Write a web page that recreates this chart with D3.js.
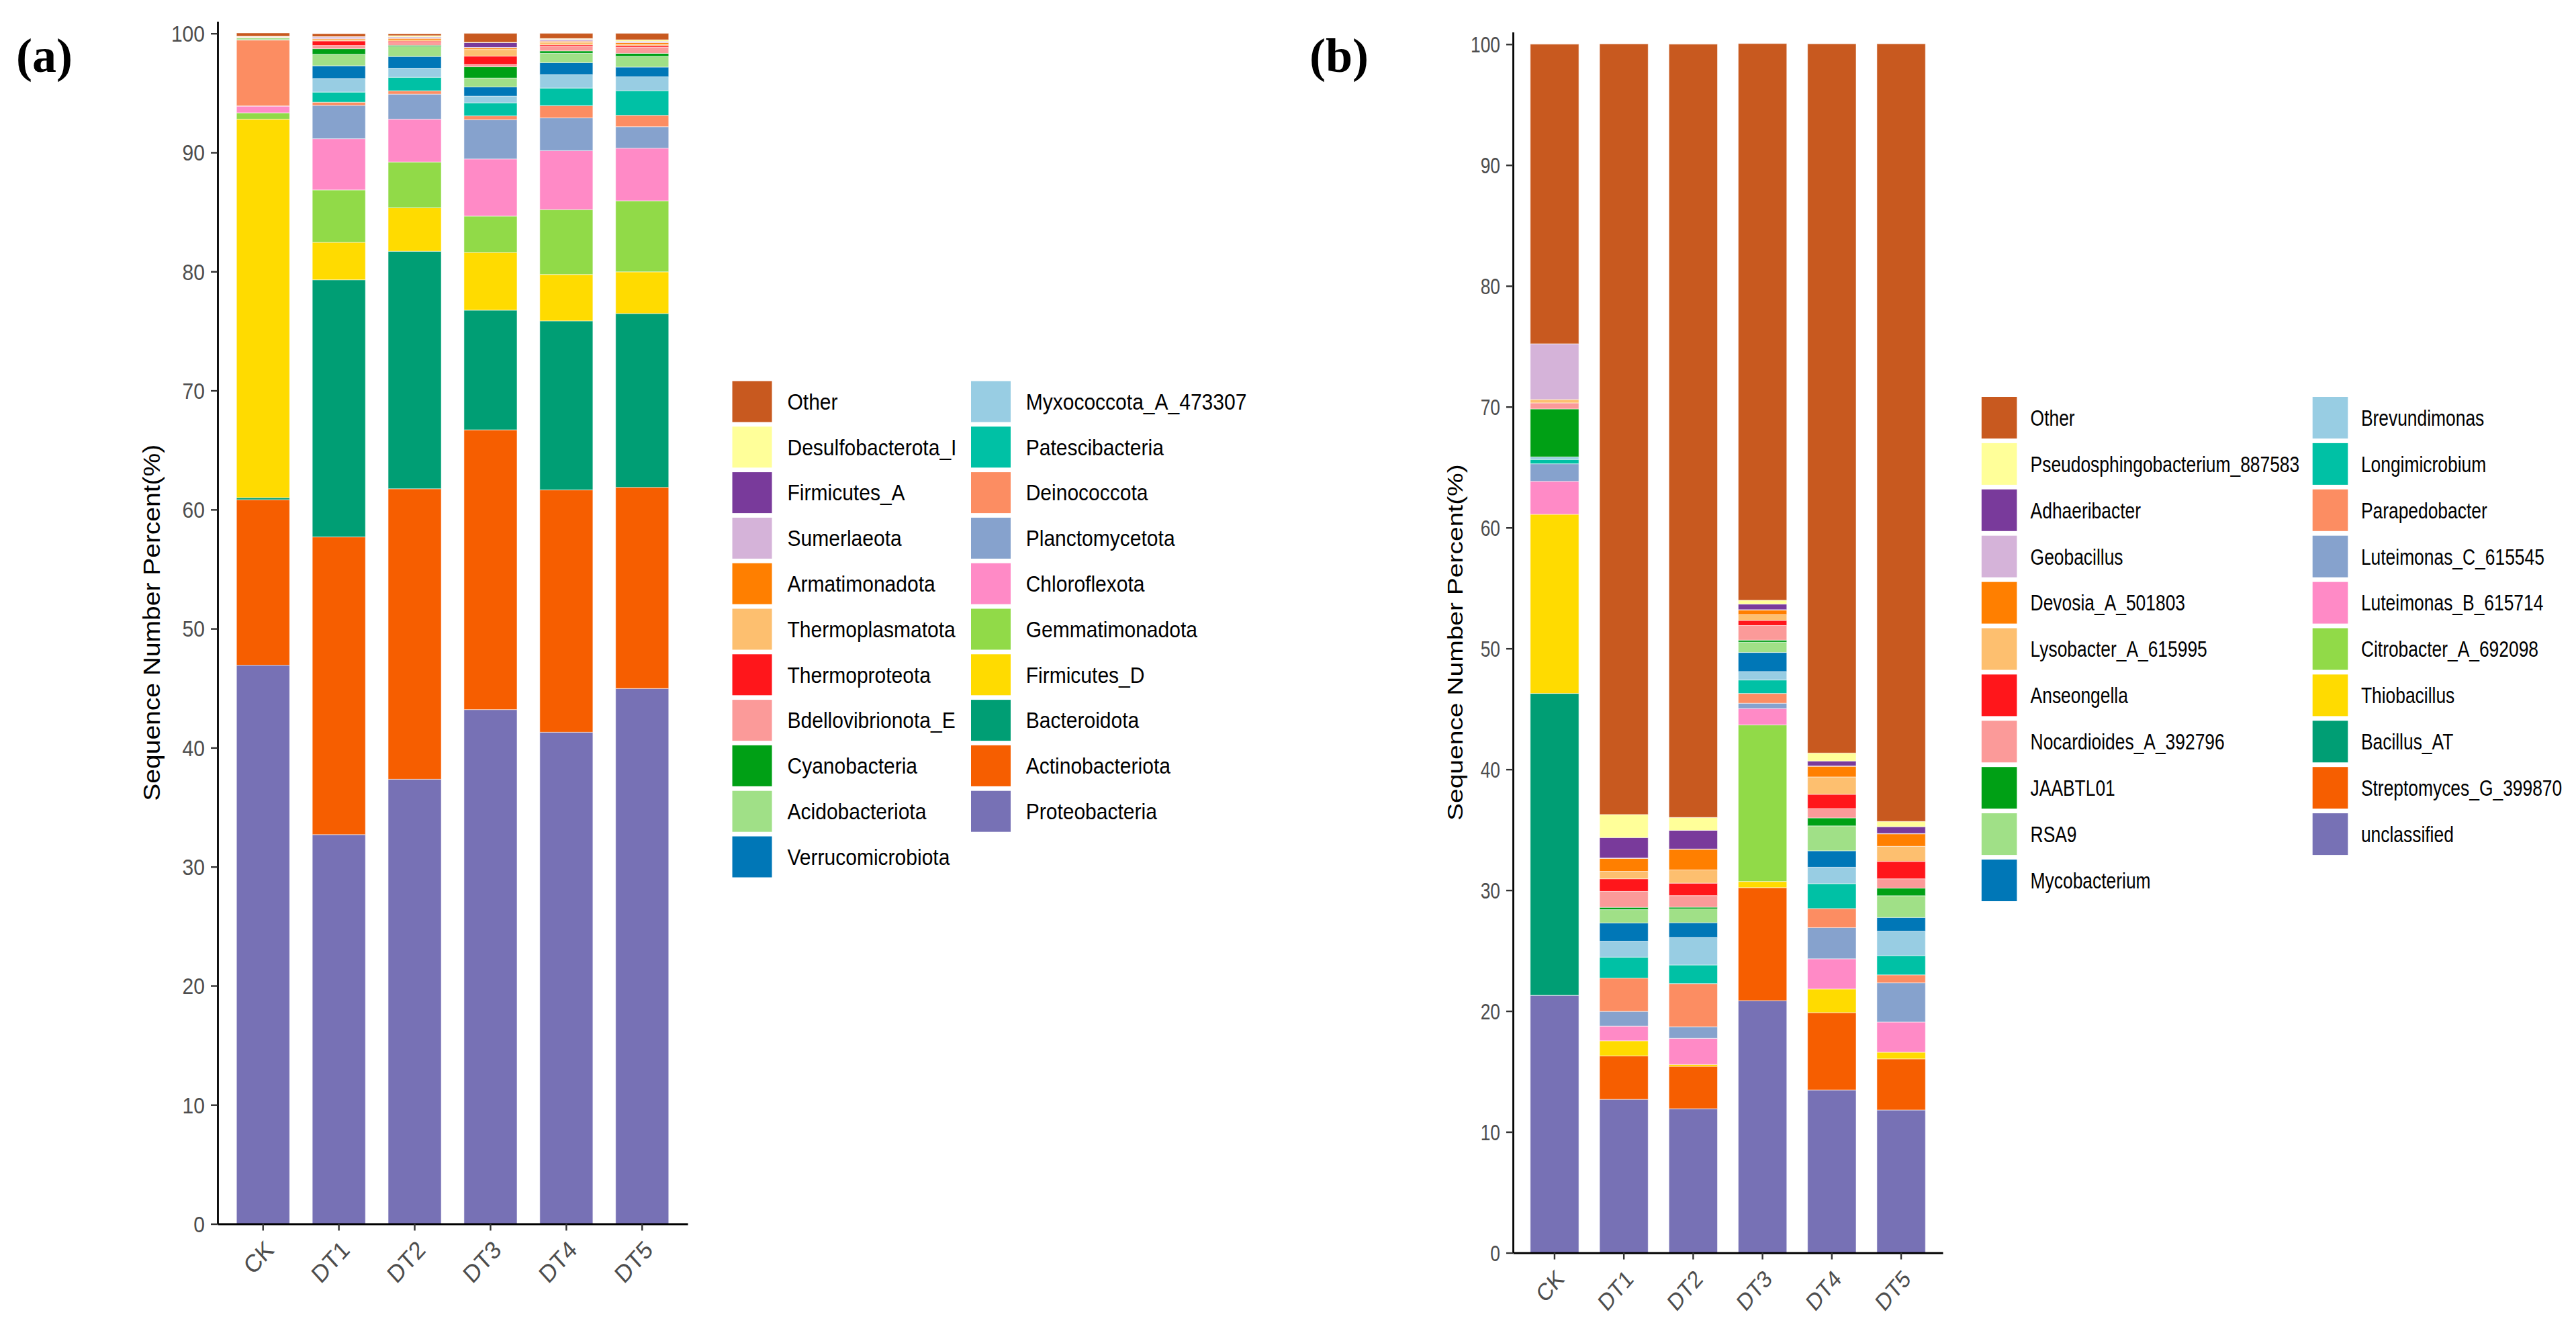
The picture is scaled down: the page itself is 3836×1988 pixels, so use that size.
<!DOCTYPE html>
<html>
<head>
<meta charset="utf-8">
<script src="https://cdn.jsdelivr.net/npm/d3@7"></script>
<style>
  body { margin: 0; background: #fff; }
  text { font-family: "Liberation Sans", Arial, sans-serif; }
</style>
</head>
<body>
<script>
// sample names on the x axis
var samples = ["CK", "DT1", "DT2", "DT3", "DT4", "DT5"];

// panel (a): phyla, legend order (top of stack first)
var taxaA = ["Other", "Desulfobacterota_I", "Firmicutes_A", "Sumerlaeota", "Armatimonadota",
  "Thermoplasmatota", "Thermoproteota", "Bdellovibrionota_E", "Cyanobacteria", "Acidobacteriota",
  "Verrucomicrobiota", "Myxococcota_A_473307", "Patescibacteria", "Deinococcota", "Planctomycetota",
  "Chloroflexota", "Gemmatimonadota", "Firmicutes_D", "Bacteroidota", "Actinobacteriota", "Proteobacteria"];

// percent per sample (CK, DT1..DT5), same row order as taxaA
var valuesA = [
  [0.28, 0.24, 0.15, 0.75, 0.43, 0.54],
  [0.02, 0.02, 0.10, 0.02, 0.07, 0.12],
  [0.01, 0.03, 0.05, 0.40, 0.02, 0.02],
  [0.02, 0.13, 0.08, 0.05, 0.15, 0.10],
  [0.01, 0.09, 0.13, 0.13, 0.10, 0.15],
  [0.01, 0.09, 0.10, 0.56, 0.19, 0.10],
  [0.01, 0.38, 0.13, 0.70, 0.13, 0.13],
  [0.05, 0.28, 0.22, 0.20, 0.38, 0.52],
  [0.01, 0.47, 0.11, 0.94, 0.20, 0.25],
  [0.15, 0.96, 0.83, 0.75, 0.79, 0.90],
  [0.01, 1.07, 0.98, 0.77, 1.00, 0.81],
  [0.01, 1.14, 0.77, 0.56, 1.13, 1.17],
  [0.01, 0.85, 1.13, 1.10, 1.48, 2.07],
  [5.53, 0.27, 0.28, 0.32, 1.03, 0.96],
  [0.02, 2.80, 2.10, 3.30, 2.75, 1.80],
  [0.56, 4.30, 3.60, 4.80, 4.95, 4.42],
  [0.53, 4.40, 3.85, 3.05, 5.45, 5.97],
  [31.80, 3.15, 3.65, 4.85, 3.90, 3.50],
  [0.17, 21.60, 19.95, 10.05, 14.20, 14.60],
  [13.90, 25.00, 24.40, 23.50, 20.35, 16.90],
  [46.93, 32.70, 37.35, 43.20, 41.30, 44.97]
];

// panel (b): genera, legend order (top of stack first)
var taxaB = ["Other", "Pseudosphingobacterium_887583", "Adhaeribacter", "Geobacillus", "Devosia_A_501803",
  "Lysobacter_A_615995", "Anseongella", "Nocardioides_A_392796", "JAABTL01", "RSA9",
  "Mycobacterium", "Brevundimonas", "Longimicrobium", "Parapedobacter", "Luteimonas_C_615545",
  "Luteimonas_B_615714", "Citrobacter_A_692098", "Thiobacillus", "Bacillus_AT", "Streptomyces_G_399870",
  "unclassified"];

var valuesB = [
  [24.79, 63.76, 63.98, 46.06, 58.68, 64.34],
  [0, 1.91, 1.07, 0.32, 0.66, 0.44],
  [0, 1.69, 1.54, 0.46, 0.41, 0.56],
  [4.61, 0.03, 0.03, 0.03, 0.03, 0.03],
  [0, 1.07, 1.70, 0.39, 0.88, 1.03],
  [0.28, 0.62, 1.10, 0.47, 1.44, 1.25],
  [0, 1.04, 1.03, 0.42, 1.18, 1.44],
  [0.50, 1.32, 0.96, 1.21, 0.77, 0.77],
  [3.97, 0.19, 0.14, 0.17, 0.66, 0.63],
  [0, 1.10, 1.14, 0.85, 2.06, 1.80],
  [0, 1.51, 1.22, 1.58, 1.36, 1.14],
  [0.21, 1.32, 2.28, 0.70, 1.36, 2.02],
  [0.36, 1.73, 1.54, 1.11, 2.06, 1.59],
  [0, 2.76, 3.57, 0.81, 1.58, 0.66],
  [1.45, 1.22, 0.96, 0.44, 2.58, 3.24],
  [2.73, 1.21, 2.17, 1.36, 2.50, 2.50],
  [0, 0, 0, 12.95, 0, 0],
  [14.82, 1.25, 0.15, 0.51, 1.95, 0.55],
  [24.98, 0, 0, 0, 0, 0],
  [0, 3.60, 3.50, 9.35, 6.40, 4.23],
  [21.30, 12.69, 11.92, 20.86, 13.47, 11.81]
];

var yTicks = [0, 10, 20, 30, 40, 50, 60, 70, 80, 90, 100];

// fill colours, legend order (shared by both panels)
var palette = ["#C8591F", "#FFFF99", "#793A9B", "#D5B3D9", "#FF7F00", "#FDBF6F", "#FF161B",
  "#FB9A99", "#00A015", "#A0E087", "#0077B7", "#98CDE3", "#00C1A5", "#FC8D62", "#86A2CD",
  "#FF8AC6", "#91DA48", "#FFDB00", "#009E74", "#F65E00", "#7771B5"];

var svg = d3.select("body").append("svg")
  .attr("width", 3836)
  .attr("height", 1988);

function drawPanel(p) {
  var g = svg.append("g");

  var x = d3.scaleBand().domain(samples).range([p.x0, p.x1])
    .paddingInner(0.3).paddingOuter(0.25);
  var y = d3.scaleLinear().domain([0, 101]).range([p.yBottom, p.yTop]);

  // rows for d3.stack
  var rows = samples.map(function(s, j) {
    var r = { sample: s };
    p.taxa.forEach(function(t, i) { r[t] = p.values[i][j]; });
    return r;
  });
  var keys = p.taxa.slice().reverse();   // bottom of stack first
  var color = d3.scaleOrdinal().domain(p.taxa).range(palette);
  var series = d3.stack().keys(keys)(rows);

  g.selectAll("g.layer")
    .data(series)
    .enter().append("g")
    .attr("class", "layer")
    .attr("fill", function(d) { return color(d.key); })
    .selectAll("rect")
    .data(function(d) { return d; })
    .enter().append("rect")
    .attr("x", function(d) { return x(d.data.sample); })
    .attr("width", x.bandwidth())
    .attr("y", function(d) { return y(d[1]); })
    .attr("height", function(d) { return Math.max(0, y(d[0]) - y(d[1])); })
    .attr("stroke", "#ffffff")
    .attr("stroke-opacity", 0.55)
    .attr("stroke-width", 1);

  // y axis
  var ya = g.append("g")
    .attr("transform", "translate(" + p.x0 + ",0)")
    .call(d3.axisLeft(y).tickValues(yTicks).tickSize(10).tickSizeOuter(0));
  ya.select(".domain").attr("stroke", "#000").attr("stroke-width", 2.8);
  ya.selectAll(".tick line").attr("stroke", "#333").attr("stroke-width", 2.4);
  ya.selectAll(".tick text")
    .attr("x", 0).attr("dy", "0.36em")
    .attr("transform", "translate(-19,0) scale(" + p.sx + ",1)")
    .attr("fill", "#4D4D4D")
    .style("font-size", "33px")
    .style("font-family", "Liberation Sans, Arial, sans-serif");

  // x axis
  var xa = g.append("g")
    .attr("transform", "translate(0," + p.yBottom + ")")
    .call(d3.axisBottom(x).tickSize(10).tickSizeOuter(0));
  xa.select(".domain").attr("stroke", "#000").attr("stroke-width", 2.8);
  xa.selectAll(".tick line").attr("stroke", "#333").attr("stroke-width", 2.4);
  xa.selectAll(".tick text")
    .attr("x", 0).attr("y", 0).attr("dy", null)
    .attr("transform", "translate(" + p.lx + "," + p.ly + ") scale(" + p.lsx + ",1) rotate(-45)")
    .style("text-anchor", "end")
    .attr("fill", "#4D4D4D")
    .style("font-size", p.lfs + "px")
    .style("font-family", "Liberation Sans, Arial, sans-serif");

  // y axis title
  g.append("text")
    .attr("transform", "translate(" + p.titleX + "," + ((p.yTop + p.yBottom) / 2) + ") scale(" + p.sx + ",1) rotate(-90)")
    .attr("text-anchor", "middle")
    .style("font-size", "39px")
    .attr("fill", "#000")
    .text("Sequence Number Percent(%)");

  // panel letter
  g.append("text")
    .attr("x", p.labelX).attr("y", 107)
    .style("font-family", "Liberation Serif, Times New Roman, serif")
    .style("font-weight", "bold")
    .style("font-size", "72px")
    .text(p.label);

  // legend, two columns
  var leg = g.append("g");
  p.taxa.forEach(function(t, i) {
    var col = i < 11 ? 0 : 1;
    var row = col === 0 ? i : i - 11;
    var cy = p.legY0 + row * p.legStep;
    leg.append("rect")
      .attr("x", p.keyX[col]).attr("y", cy - p.keyH / 2)
      .attr("width", p.keyW).attr("height", p.keyH)
      .attr("fill", color(t));
    leg.append("text")
      .attr("transform", "translate(" + p.textX[col] + "," + cy + ") scale(" + p.sx + ",1)")
      .attr("dy", "0.36em")
      .style("font-size", "33px")
      .attr("fill", "#000")
      .text(t);
  });
}

drawPanel({
  taxa: taxaA, values: valuesA,
  x0: 324, x1: 1024, yTop: 32, yBottom: 1822.5,
  sx: 0.91, lx: 18, ly: 41, lsx: 0.91, lfs: 37, titleX: 238,
  label: "(a)", labelX: 24,
  keyX: [1090.5, 1446], textX: [1172.5, 1527.7],
  keyW: 59, keyH: 61, legY0: 598, legStep: 67.8
});

drawPanel({
  taxa: taxaB, values: valuesB,
  x0: 2253, x1: 2893, yTop: 47.8, yBottom: 1865.5,
  sx: 0.80, lx: 16, ly: 41, lsx: 0.86, lfs: 36, titleX: 2178,
  label: "(b)", labelX: 1950,
  keyX: [2950.8, 3443.7], textX: [3023.6, 3515.9],
  keyW: 52.6, keyH: 62, legY0: 622, legStep: 68.9
});
</script>
</body>
</html>
